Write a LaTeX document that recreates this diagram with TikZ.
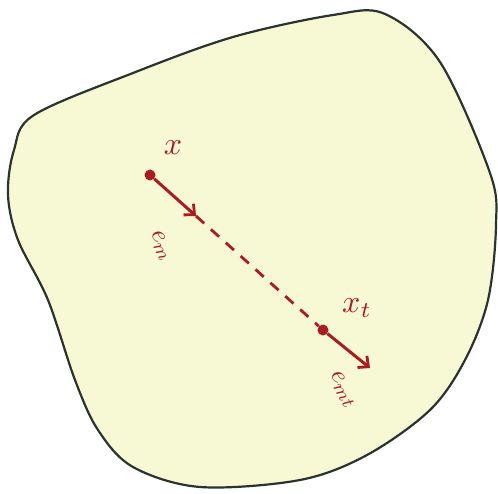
\documentclass[tikz,border=0pt]{standalone}
\usepackage{graphicx}
\usetikzlibrary{arrows.meta}
\definecolor{blobfill}{HTML}{F7F9D4}
\definecolor{blobline}{HTML}{2A332E}
\definecolor{ink}{HTML}{A81C22}
\tikzset{
  blob/.style={draw=blobline, line width=2.2pt, fill=blobfill},
  vec/.style={draw=ink, line width=3pt, -{Straight Barb[length=8pt,width=15pt,line width=2.8pt]}},
  dashline/.style={draw=ink, line width=2.8pt, dash pattern=on 11pt off 9pt},
  dotpt/.style={circle, fill=ink, inner sep=0pt, minimum size=11pt},
  lab/.style={text=ink, inner sep=1pt},
  rlab/.style={text=ink, inner sep=0pt},
}
\begin{document}
\begin{tikzpicture}[x=1pt,y=-1pt]
\useasboundingbox (0,0) rectangle (498,494);
\path[blob] plot[smooth cycle, tension=0.55] coordinates {
  (34,115) (133,73) (233,37) (333,15) (385,14) (440,62)
  (490,173) (496,225) (488,300) (465,360) (430,410)
  (367,455) (300,480) (200,487) (133,467) (98,430) (75,380)
  (48,300) (18,240) (8,195) (14,150)};
\node[dotpt] (x) at (150,175) {};
\node[dotpt] (xt) at (323,330) {};
\coordinate (em) at (196,216);
\coordinate (emt) at (370,368);
\draw[vec] (x) -- (em);
\draw[dashline] (em) -- (xt);
\draw[vec] (xt) -- (emt);
\node[lab] (lx) at (173,148) {\scalebox{3.2}{$x$}};
\node[lab] (lxt) at (357,308) {\scalebox{3.2}{$x_t$}};
\node[rlab, rotate=-65] (lem) at (161,246) {\scalebox{2.6}{$e_m$}};
\node[rlab, rotate=-62] (lemt) at (343,390) {\scalebox{2.6}{$e_{mt}$}};
\end{tikzpicture}
\end{document}
